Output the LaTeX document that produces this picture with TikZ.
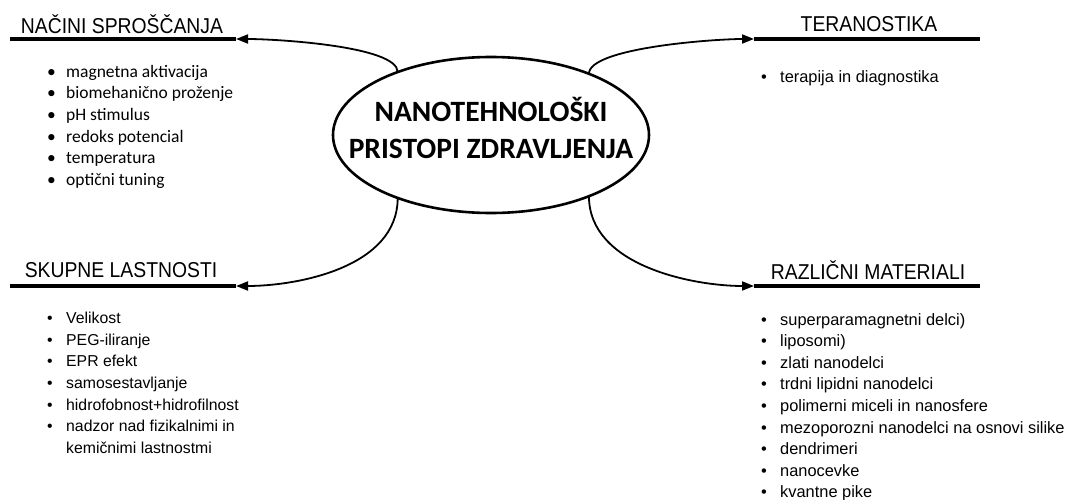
\documentclass[tikz,border=0pt]{standalone}
\usepackage{fontspec}
\setmainfont{Liberation Sans}
\newfontfamily\calib{Carlito}
\newfontfamily\headfont[FakeStretch=0.9]{Liberation Sans}
\usetikzlibrary{arrows.meta,shapes.geometric}
\begin{document}
\begin{tikzpicture}[x=1pt,y=-1pt,
  hub/.style={ellipse,draw,line width=2.6pt,minimum width=316pt,minimum height=156pt,inner sep=0pt,outer sep=0pt},
  hubtext/.style={inner sep=0pt,align=center,font=\calib\bfseries\fontsize{29.5}{37}\selectfont},
  heading/.style={anchor=center,inner sep=0pt,font=\headfont\fontsize{21.5}{24}\selectfont},
  bar/.style={line width=4pt},
  conn/.style={line width=1.8pt,-{Triangle[length=12pt,width=9pt]}},
  listA/.style={anchor=north west,inner sep=0pt,align=left,font=\calib\fontsize{17.5}{21.6}\selectfont},
  listB/.style={anchor=north west,inner sep=0pt,align=left,font=\fontsize{15.8}{21.6}\selectfont},
  listC/.style={anchor=north west,inner sep=0pt,align=left,font=\fontsize{16.4}{21.6}\selectfont},
]
\useasboundingbox (0,0) rectangle (1067,500);
\newcommand{\bul}[1]{\makebox[19pt][l]{\textbullet}#1}

\node[hub] (c) at (491,135) {};
\node[hubtext] (ct) at ([yshift=7pt]c.center) {NANOTEHNOLOŠKI\\PRISTOPI ZDRAVLJENJA};

% bars
\coordinate (tlA) at (10,39); \coordinate (tlB) at (236,39);
\coordinate (trA) at (754,39); \coordinate (trB) at (980,39);
\coordinate (blA) at (10,286); \coordinate (blB) at (236,286);
\coordinate (brA) at (754,286); \coordinate (brB) at (980,286);
\draw[bar] (tlA) -- (tlB);
\draw[bar] (trA) -- (trB);
\draw[bar] (blA) -- (blB);
\draw[bar] (brA) -- (brB);

% headings
\node[heading] (h1) at (122,24) {NAČINI SPROŠČANJA};
\node[heading] (h2) at (869,24) {TERANOSTIKA};
\node[heading] (h3) at (121,270) {SKUPNE LASTNOSTI};
\node[heading] (h4) at (868,270) {RAZLIČNI MATERIALI};

% connectors
\draw[conn] (c.146) .. controls +(0,-26) and +(40,0) .. (tlB);
\draw[conn] (c.32) .. controls +(0,-26) and +(-40,0) .. (trA);
\draw[conn] (c.214) .. controls +(0,70) and +(60,0) .. (blB);
\draw[conn] (c.-32) .. controls +(0,70) and +(-60,0) .. (brA);

% lists
\node[listA] (l1) at (47,65) {\bul{magnetna aktivacija}\\\bul{biomehanično proženje}\\\bul{pH stimulus}\\\bul{redoks potencial}\\\bul{temperatura}\\\bul{optični tuning}};
\node[listC] (l2) at (761,70) {\bul{terapija in diagnostika}};
\node[listB] (l3) at (47,312) {\bul{Velikost}\\\bul{PEG-iliranje}\\\bul{EPR efekt}\\\bul{samosestavljanje}\\\bul{hidrofobnost+hidrofilnost}\\\bul{nadzor nad fizikalnimi in}\\\hspace*{19pt}kemičnimi lastnostmi};
\node[listC] (l4) at (761,313) {\bul{superparamagnetni delci)}\\\bul{liposomi)}\\\bul{zlati nanodelci}\\\bul{trdni lipidni nanodelci}\\\bul{polimerni miceli in nanosfere}\\\bul{mezoporozni nanodelci na osnovi silike}\\\bul{dendrimeri}\\\bul{nanocevke}\\\bul{kvantne pike}};
\end{tikzpicture}
\end{document}
